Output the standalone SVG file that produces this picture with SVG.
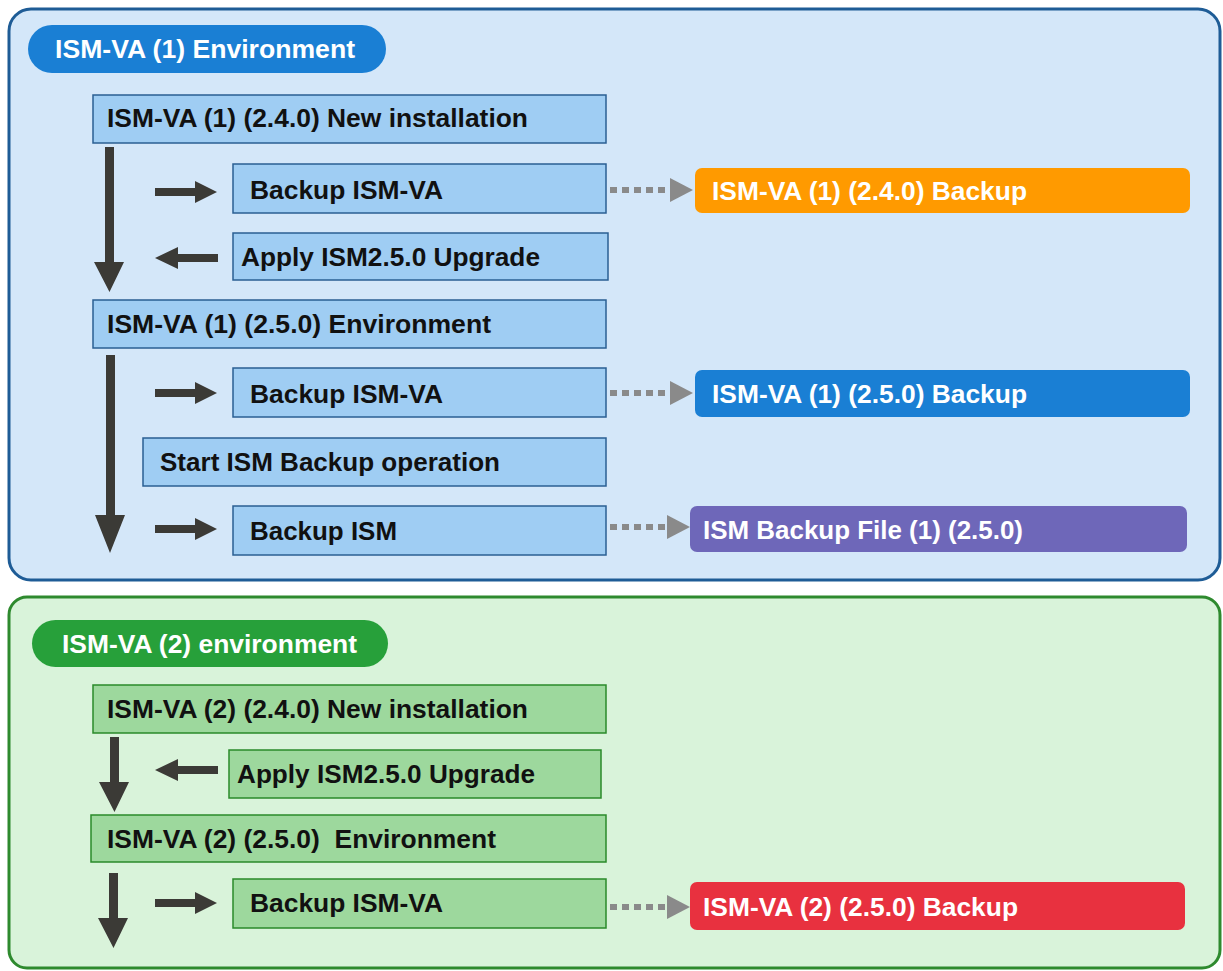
<svg xmlns="http://www.w3.org/2000/svg" width="1223" height="971" viewBox="0 0 1223 971">
<style>
text{font-family:"Liberation Sans",Arial,sans-serif;font-weight:bold;font-size:25px}
.dk{fill:#111}
.wt{fill:#fff}
.bstep{fill:#9fcdf3;stroke:#2a5f93;stroke-width:1.5}
.gstep{fill:#9dd89d;stroke:#2a8a2a;stroke-width:1.5}
.arr{fill:#3b3a36}
.dot{stroke:#8a8a8a;stroke-width:6;stroke-dasharray:7,5;fill:none}
.dhead{fill:#8a8a8a}
</style>
<rect width="1223" height="971" fill="#fff"/>
<g id="panel1">
<rect x="9" y="9" width="1211" height="571" rx="22" fill="#d4e7f9" stroke="#1e5c96" stroke-width="3"/>
<rect x="28" y="25" width="358" height="48" rx="24" fill="#1a7fd4"/>
<text class="wt" x="55" y="58" textLength="300" lengthAdjust="spacingAndGlyphs">ISM-VA (1) Environment</text>
</g>
<g id="panel2">
<rect x="9" y="597" width="1211" height="371" rx="18" fill="#d9f3da" stroke="#2e8a2e" stroke-width="3"/>
<rect x="32" y="620" width="356" height="47" rx="23.5" fill="#27a03a"/>
<text class="wt" x="62" y="653" textLength="295" lengthAdjust="spacingAndGlyphs">ISM-VA (2) environment</text>
</g>
<g id="n1"><rect class="bstep" x="93" y="95" width="513" height="48"/><text class="dk" x="107" y="127" textLength="421" lengthAdjust="spacingAndGlyphs">ISM-VA (1) (2.4.0) New installation</text></g>
<g id="n2"><rect class="bstep" x="233" y="164" width="373" height="49"/><text class="dk" x="250" y="199" textLength="193" lengthAdjust="spacingAndGlyphs">Backup ISM-VA</text></g>
<g id="n3"><rect class="bstep" x="233" y="233" width="375" height="47"/><text class="dk" x="241" y="266" textLength="299" lengthAdjust="spacingAndGlyphs">Apply ISM2.5.0 Upgrade</text></g>
<g id="n4"><rect class="bstep" x="93" y="300" width="513" height="48"/><text class="dk" x="107" y="333" textLength="384" lengthAdjust="spacingAndGlyphs">ISM-VA (1) (2.5.0) Environment</text></g>
<g id="n5"><rect class="bstep" x="233" y="368" width="373" height="49"/><text class="dk" x="250" y="403" textLength="193" lengthAdjust="spacingAndGlyphs">Backup ISM-VA</text></g>
<g id="n6"><rect class="bstep" x="143" y="438" width="463" height="48"/><text class="dk" x="160" y="471" textLength="340" lengthAdjust="spacingAndGlyphs">Start ISM Backup operation</text></g>
<g id="n7"><rect class="bstep" x="233" y="506" width="373" height="49"/><text class="dk" x="250" y="540" textLength="147" lengthAdjust="spacingAndGlyphs">Backup ISM</text></g>
<g id="o1"><rect x="695" y="168" width="495" height="45" rx="7" fill="#ff9a00"/><text class="wt" x="712" y="200" textLength="315" lengthAdjust="spacingAndGlyphs">ISM-VA (1) (2.4.0) Backup</text></g>
<g id="o2"><rect x="695" y="370" width="495" height="47" rx="7" fill="#1a7fd4"/><text class="wt" x="712" y="403" textLength="315" lengthAdjust="spacingAndGlyphs">ISM-VA (1) (2.5.0) Backup</text></g>
<g id="o3"><rect x="690" y="506" width="497" height="46" rx="7" fill="#6e67b9"/><text class="wt" x="703" y="539" textLength="320" lengthAdjust="spacingAndGlyphs">ISM Backup File (1) (2.5.0)</text></g>
<g id="g1"><rect class="gstep" x="93" y="685" width="513" height="48"/><text class="dk" x="107" y="718" textLength="421" lengthAdjust="spacingAndGlyphs">ISM-VA (2) (2.4.0) New installation</text></g>
<g id="g2"><rect class="gstep" x="229" y="750" width="372" height="48"/><text class="dk" x="237" y="783" textLength="298" lengthAdjust="spacingAndGlyphs">Apply ISM2.5.0 Upgrade</text></g>
<g id="g3"><rect class="gstep" x="91" y="815" width="515" height="47"/><text class="dk" x="107" y="848" textLength="389" lengthAdjust="spacingAndGlyphs" xml:space="preserve">ISM-VA (2) (2.5.0)  Environment</text></g>
<g id="g4"><rect class="gstep" x="233" y="879" width="373" height="49"/><text class="dk" x="250" y="912" textLength="193" lengthAdjust="spacingAndGlyphs">Backup ISM-VA</text></g>
<g id="o4"><rect x="690" y="882" width="495" height="48" rx="7" fill="#e8313f"/><text class="wt" x="703" y="916" textLength="315" lengthAdjust="spacingAndGlyphs">ISM-VA (2) (2.5.0) Backup</text></g>
<g id="connectors">
<path class="arr" d="M105,147 h9 v115 h10 l-14.5,30 l-15.5,-30 h11 z"/>
<path class="arr" d="M106,355 h9 v160 h10 l-15,38 l-15,-38 h11 z"/>
<path class="arr" d="M110,737 h9 v45 h10 l-14.5,30 l-15.5,-30 h11 z"/>
<path class="arr" d="M109,873 h9 v45 h10 l-14.5,30 l-15.5,-30 h11 z"/>
<path class="arr" d="M155,188 h40 v-7 l22,11 l-22,11 v-7 h-40 z"/>
<path class="arr" d="M218,254 h-40 v-7 l-23,11 l23,11 v-7 h40 z"/>
<path class="arr" d="M155,389 h40 v-7 l22,11 l-22,11 v-7 h-40 z"/>
<path class="arr" d="M155,525 h40 v-7 l22,11 l-22,11 v-7 h-40 z"/>
<path class="arr" d="M218,766 h-40 v-7 l-23,11 l23,11 v-7 h40 z"/>
<path class="arr" d="M155,899 h40 v-7 l22,11 l-22,11 v-7 h-40 z"/>
<path class="dot" d="M610,190 H670"/><path class="dhead" d="M670,178 L693,190 L670,202 z"/>
<path class="dot" d="M610,393 H670"/><path class="dhead" d="M670,381 L693,393 L670,405 z"/>
<path class="dot" d="M610,527 H667"/><path class="dhead" d="M667,515 L690,527 L667,539 z"/>
<path class="dot" d="M610,907 H667"/><path class="dhead" d="M667,895 L690,907 L667,919 z"/>
</g>
</svg>
